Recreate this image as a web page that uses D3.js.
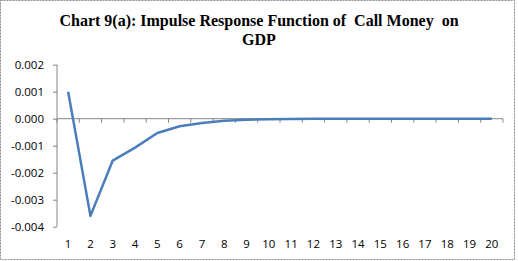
<!DOCTYPE html>
<html>
<head>
<meta charset="utf-8">
<script src="https://cdn.jsdelivr.net/npm/d3@7"></script>
<style>
    body { margin: 0; background: #fff; }
    svg { display: block; }
</style>
</head>
<body>
<svg id="chart" width="518" height="261"></svg>
<script>
// data
const periods = d3.range(1, 21);
const response = [0.001, -0.0036, -0.00155, -0.00107, -0.00053, -0.00028, -0.00016, -0.00008,
    -0.00004, -0.00002, -0.00001, 0, 0, 0, 0, 0, 0, 0, 0, 0];
const yTicks = [0.002, 0.001, 0, -0.001, -0.002, -0.003, -0.004];
const titleLines = ['Chart 9(a): Impulse Response Function of  Call Money  on', 'GDP'];

const W = 518, H = 261;
const plot = { left: 57, right: 503, top: 64.7, bottom: 226.7 };

const svg = d3.select('#chart');

// outer dotted frame
svg.append('rect')
    .attr('x', 0.5).attr('y', 0.5)
    .attr('width', 514).attr('height', 259)
    .attr('fill', '#fff')
    .attr('stroke', '#8a8a8a')
    .attr('stroke-dasharray', '2,1');

svg.selectAll('text.title')
    .data(titleLines)
    .enter().append('text')
    .attr('class', 'title')
    .attr('x', 259)
    .attr('y', (d, i) => 26 + i * 19)
    .attr('text-anchor', 'middle')
    .style('white-space', 'pre')
    .attr('font-family', '"Liberation Serif", "Times New Roman", serif')
    .attr('font-weight', 'bold')
    .attr('font-size', 16)
    .attr('fill', '#000')
    .text(d => d);

const x = d3.scaleBand().domain(periods).range([plot.left, plot.right]);
const y = d3.scaleLinear().domain([-0.004, 0.002]).range([plot.bottom, plot.top]);

const axisColor = '#868686';
const labelFont = '"Open Sans", "Liberation Sans", sans-serif';

// y axis
const yAxis = svg.append('g')
    .attr('transform', `translate(${plot.left},0)`)
    .call(d3.axisLeft(y).tickValues(yTicks).tickSize(4).tickPadding(9).tickFormat(d3.format('.3f')));
yAxis.select('.domain').attr('stroke', axisColor).attr('d', `M0,${plot.top}V${plot.bottom}`);
yAxis.selectAll('.tick line').attr('stroke', axisColor);
yAxis.selectAll('.tick text')
    .text(d => d3.format('.3f')(d).replace('−', '-'))
    .attr('font-family', labelFont).attr('font-size', 11.5).attr('fill', '#000');

// x axis sits on zero, ticks between categories, labels at the bottom
const y0 = y(0);
const xg = svg.append('g');
xg.append('line')
    .attr('x1', plot.left).attr('x2', plot.right)
    .attr('y1', y0).attr('y2', y0)
    .attr('stroke', axisColor);
const bounds = periods.map(p => x(p)).concat([plot.right]);
xg.selectAll('line.tk')
    .data(bounds)
    .enter().append('line')
    .attr('class', 'tk')
    .attr('x1', d => d).attr('x2', d => d)
    .attr('y1', y0).attr('y2', y0 + 4)
    .attr('stroke', axisColor);
xg.selectAll('text')
    .data(periods)
    .enter().append('text')
    .attr('x', d => x(d) + x.bandwidth() / 2)
    .attr('y', 248)
    .attr('text-anchor', 'middle')
    .attr('font-family', labelFont)
    .attr('font-size', 11.5)
    .attr('fill', '#000')
    .text(d => d);

// response line
const line = d3.line()
    .x((d, i) => x(periods[i]) + x.bandwidth() / 2)
    .y(d => y(d));
svg.append('path')
    .datum(response)
    .attr('d', line)
    .attr('fill', 'none')
    .attr('stroke', '#4a7ebb')
    .attr('stroke-width', 2.5)
    .attr('stroke-linejoin', 'round');
</script>
</body>
</html>
